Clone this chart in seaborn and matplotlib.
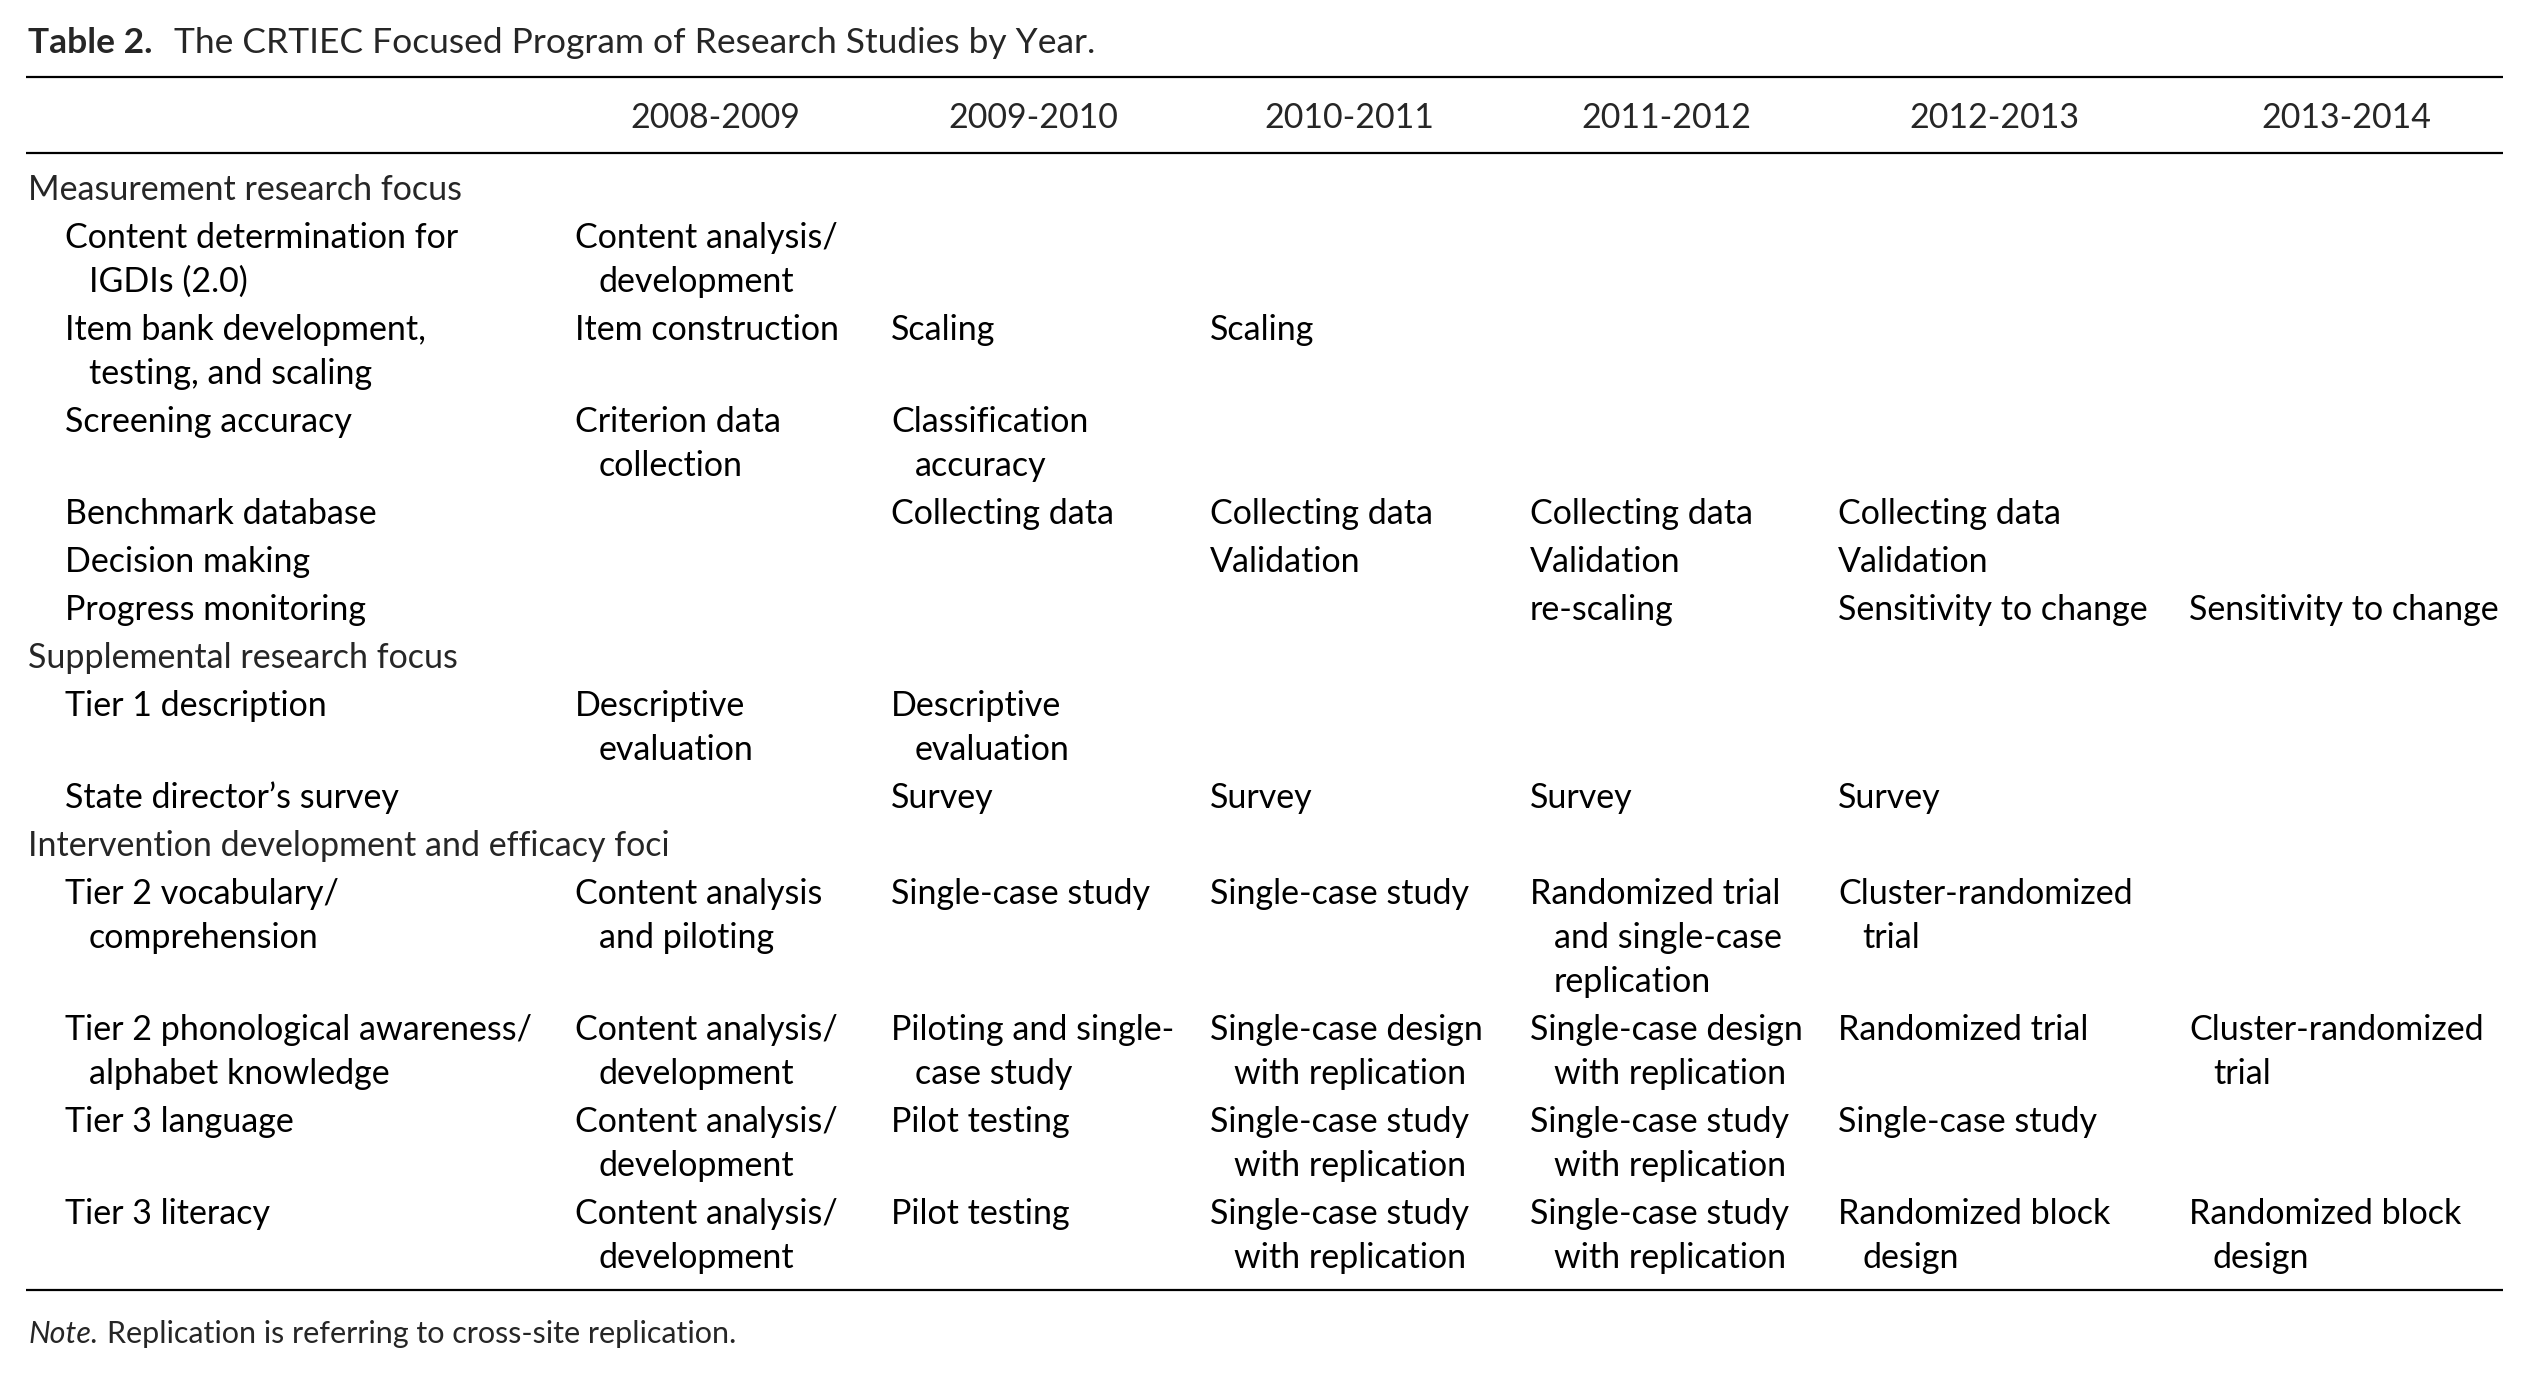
import matplotlib
matplotlib.use("Agg")
import matplotlib.pyplot as plt
import seaborn as sns
import pandas as pd

years = ["2008-2009", "2009-2010", "2010-2011", "2011-2012", "2012-2013", "2013-2014"]

focus_areas = [
    "Measurement research focus",
    "Supplemental research focus",
    "Intervention development and efficacy foci",
]

studies = [
    "Content determination for\nIGDIs (2.0)",
    "Item bank development,\ntesting, and scaling",
    "Screening accuracy",
    "Benchmark database",
    "Decision making",
    "Progress monitoring",
    "Tier 1 description",
    "State director\u2019s survey",
    "Tier 2 vocabulary/\ncomprehension",
    "Tier 2 phonological awareness/\nalphabet knowledge",
    "Tier 3 language",
    "Tier 3 literacy",
]
study_focus = [0, 0, 0, 0, 0, 0, 1, 1, 2, 2, 2, 2]

y2008 = ["Content analysis/\ndevelopment", "Item construction", "Criterion data\ncollection",
         "", "", "", "Descriptive\nevaluation", "", "Content analysis\nand piloting",
         "Content analysis/\ndevelopment", "Content analysis/\ndevelopment", "Content analysis/\ndevelopment"]
y2009 = ["", "Scaling", "Classification\naccuracy", "Collecting data", "", "",
         "Descriptive\nevaluation", "Survey", "Single-case study",
         "Piloting and single-\ncase study", "Pilot testing", "Pilot testing"]
y2010 = ["", "Scaling", "", "Collecting data", "Validation", "", "", "Survey",
         "Single-case study", "Single-case design\nwith replication",
         "Single-case study\nwith replication", "Single-case study\nwith replication"]
y2011 = ["", "", "", "Collecting data", "Validation", "re-scaling", "", "Survey",
         "Randomized trial\nand single-case\nreplication", "Single-case design\nwith replication",
         "Single-case study\nwith replication", "Single-case study\nwith replication"]
y2012 = ["", "", "", "Collecting data", "Validation", "Sensitivity to change", "", "Survey",
         "Cluster-randomized\ntrial", "Randomized trial", "Single-case study",
         "Randomized block\ndesign"]
y2013 = ["", "", "", "", "", "Sensitivity to change", "", "", "",
         "Cluster-randomized\ntrial", "", "Randomized block\ndesign"]

title_bold = "Table 2."
title_text = "The CRTIEC Focused Program of Research Studies by Year."
note_label = "Note."
note_text = "Replication is referring to cross-site replication."

df = pd.DataFrame({"study": studies, "focus": study_focus,
                   years[0]: y2008, years[1]: y2009, years[2]: y2010,
                   years[3]: y2011, years[4]: y2012, years[5]: y2013})

sns.set_theme(style="white")
plt.rcParams["font.family"] = ["Lato", "DejaVu Sans"]

W, H = 2530, 1377
fig = plt.figure(figsize=(W / 100, H / 100), dpi=100)
ax = fig.add_axes([0, 0, 1, 1])
ax.set_xlim(0, W)
ax.set_ylim(H, 0)
ax.axis("off")

fs = 24.5
fs_title = 25.5
fs_note = 22
line_h = 44
row_gap = 48
indent = 24
x_sec, x_lab = 28, 65
col_x = [575, 891, 1210, 1530, 1838, 2189]
head_x = [715, 1033, 1349, 1666, 1994, 2346]


def cell(x, y, txt):
    for k, part in enumerate(txt.split("\n")):
        ax.text(x + (indent if k else 0), y + k * line_h, part,
                fontsize=fs, color="black", ha="left", va="center")


renderer = fig.canvas.get_renderer()

# title
t = ax.text(x_sec, 43, title_bold, fontsize=fs_title, fontweight="bold", va="center")
bb = t.get_window_extent(renderer).transformed(ax.transData.inverted())
ax.text(bb.x1 + 22, 43, title_text, fontsize=fs_title, va="center")

# rules
for yy in [77, 153, 1290]:
    ax.plot([26, 2503], [yy, yy], color="black", lw=1.6, solid_capstyle="butt")

# header
for x, yr in zip(head_x, years):
    ax.text(x, 118, yr, fontsize=fs, ha="center", va="center")

# body
y = 190
cur = -1
for _, r in df.iterrows():
    if r["focus"] != cur:
        cur = r["focus"]
        ax.text(x_sec, y, focus_areas[cur], fontsize=fs, va="center")
        y += row_gap
    cell(x_lab, y, r["study"])
    n = r["study"].count("\n") + 1
    for x, yr in zip(col_x, years):
        if r[yr]:
            cell(x, y, r[yr])
            n = max(n, r[yr].count("\n") + 1)
    y += (n - 1) * line_h + row_gap

# note
t = ax.text(x_sec, 1334, note_label, fontsize=fs_note, style="italic", va="center")
bb = t.get_window_extent(renderer).transformed(ax.transData.inverted())
ax.text(bb.x1 + 9, 1334, note_text, fontsize=fs_note, va="center")

fig.savefig("out.png", dpi=100, facecolor="white")
